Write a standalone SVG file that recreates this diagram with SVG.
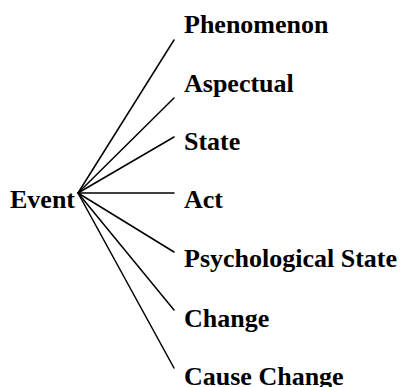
<svg xmlns="http://www.w3.org/2000/svg" width="405" height="387" viewBox="0 0 405 387">
<style>
text{font-family:"Liberation Serif","Times New Roman",serif;font-weight:bold;font-size:26px;fill:#000}
.c line{stroke:#000;stroke-width:1.5;stroke-linecap:round}
</style>
<rect width="405" height="387" fill="#fff"/>
<g id="connectors" class="c">
<line x1="78" y1="193" x2="174" y2="40"/>
<line x1="78" y1="193" x2="174" y2="98"/>
<line x1="78" y1="193" x2="174" y2="137"/>
<line x1="78" y1="193" x2="174" y2="193"/>
<line x1="78" y1="193" x2="174" y2="252"/>
<line x1="78" y1="193" x2="174" y2="310"/>
<line x1="78" y1="193" x2="174" y2="368"/>
</g>
<g id="event"><text x="10" y="208">Event</text></g>
<g id="phenomenon"><text x="184" y="33">Phenomenon</text></g>
<g id="aspectual"><text x="184" y="92">Aspectual</text></g>
<g id="state"><text x="184" y="150">State</text></g>
<g id="act"><text x="184" y="208">Act</text></g>
<g id="psychological-state"><text x="184" y="267">Psychological State</text></g>
<g id="change"><text x="184" y="327">Change</text></g>
<g id="cause-change"><text x="184" y="385">Cause Change</text></g>
</svg>
